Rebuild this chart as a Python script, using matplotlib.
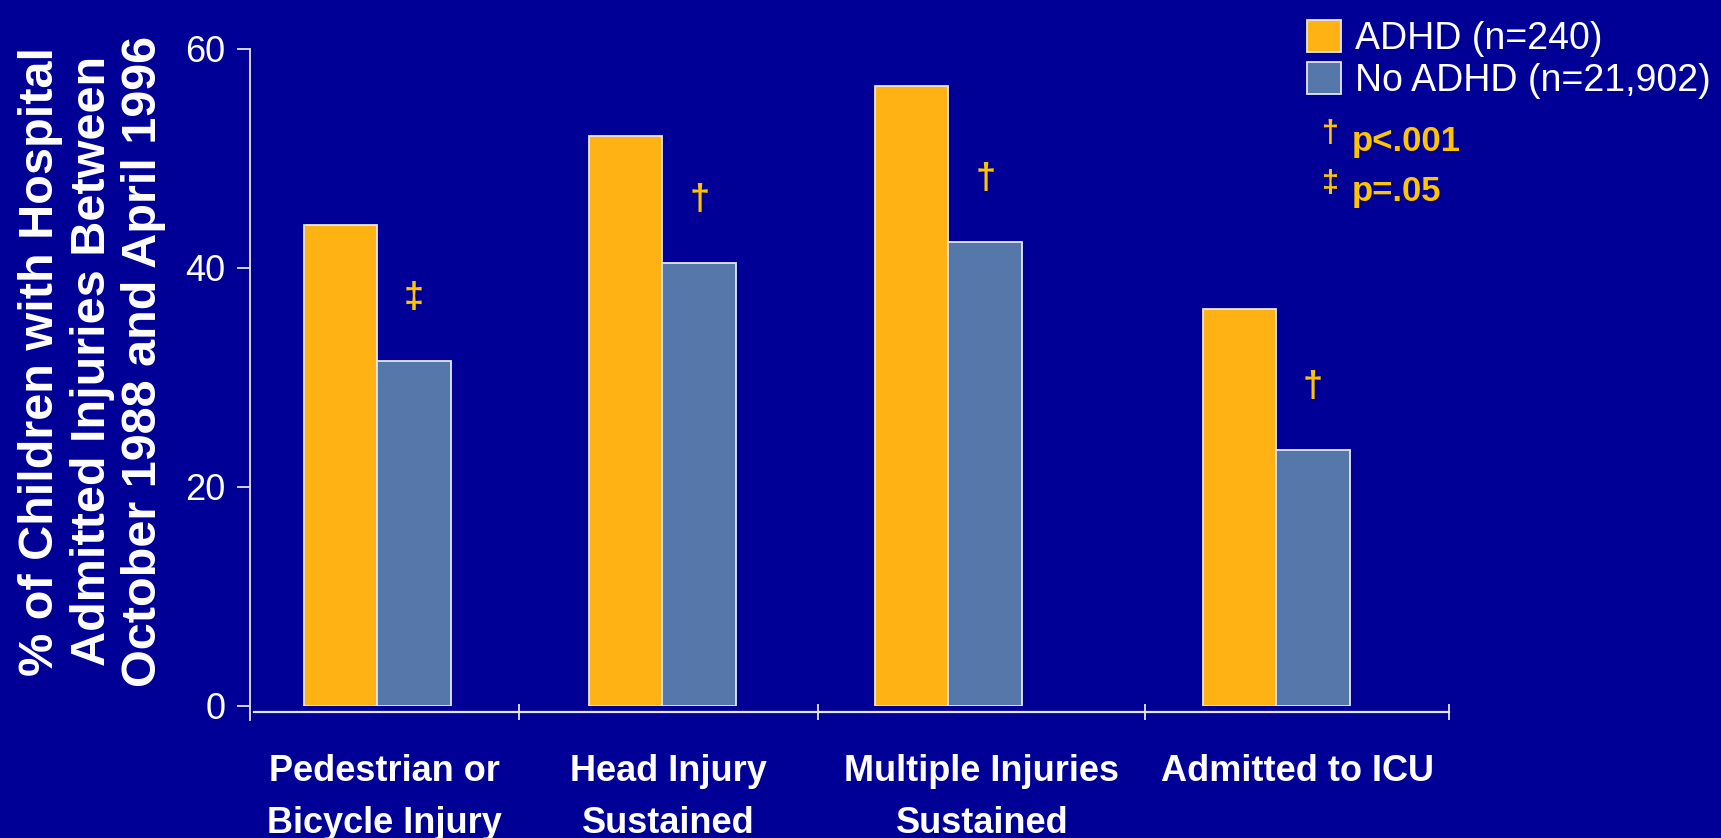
import matplotlib.pyplot as plt
from matplotlib.patches import Patch
import numpy as np

# injury outcomes, % of children admitted
categories = ["Pedestrian or\nBicycle Injury", "Head Injury\nSustained",
              "Multiple Injuries\nSustained", "Admitted to ICU"]
adhd = [43.9, 52.1, 56.6, 36.3]
no_adhd = [31.5, 40.5, 42.4, 23.4]
sig_marks = ["\u2021", "\u2020", "\u2020", "\u2020"]

series_labels = ["ADHD (n=240)", "No ADHD (n=21,902)"]
yticks = [0, 20, 40, 60]

bg = "#000096"
orange = "#FFB213"
steel = "#5677AA"
yellow = "#FFC400"
edge = "#E6E6EE"

plt.rcParams['font.family'] = ['Liberation Sans', 'DejaVu Sans']

# band layout along x (bar width = 1 unit)
band_edges = [0, 3.66, 7.73, 12.18, 16.31]
group_mid = [1.73, 5.61, 9.50, 13.96]
band_mid = [(band_edges[i] + band_edges[i + 1]) / 2 for i in range(4)]

fig = plt.figure(figsize=(17.21, 8.38), dpi=100, facecolor=bg)
ax = fig.add_axes([0.14526, 0.15752, 0.69669, 0.78401])
ax.set_facecolor(bg)

gx = np.array(group_mid)
ax.bar(gx - 0.5, adhd, width=1, color=orange, edgecolor=edge, linewidth=1.3, zorder=2)
ax.bar(gx + 0.5, no_adhd, width=1, color=steel, edgecolor=edge, linewidth=1.3, zorder=2)

# significance daggers above the comparison bars
for x, v, m in zip(gx + 0.5, no_adhd, sig_marks):
    ax.text(x, v + 5.7, m, color=yellow, fontsize=26, fontweight='bold',
            ha='center', va='center')

ax.set_xlim(band_edges[0], band_edges[-1])
ax.set_ylim(0, 60)

for s in ['top', 'right']:
    ax.spines[s].set_visible(False)
ax.spines['left'].set_color(edge)
ax.spines['left'].set_linewidth(1.3)
ax.spines['left'].set_bounds(-1.3, 60)
ax.spines['bottom'].set_color(edge)
ax.spines['bottom'].set_linewidth(1.6)
ax.spines['bottom'].set_position(('outward', 4.5))
ax.spines['bottom'].set_bounds(0.05, band_edges[-1])

ax.set_yticks(yticks)
ax.set_yticklabels([str(t) for t in yticks], fontsize=26, color='white')
ax.tick_params(axis='y', direction='out', length=9.5, width=1.3, color=edge, pad=8)

ax.set_xticks(band_mid)
ax.set_xticklabels(categories, fontsize=26, fontweight='bold', color='white',
                   linespacing=1.62)
ax.tick_params(axis='x', which='major', length=0, pad=30)
ax.set_xticks(band_edges[1:], minor=True)
ax.tick_params(axis='x', which='minor', direction='inout', length=11, width=1.3, color=edge)

fig.text(0.0535, 0.569,
         "% of Children with Hospital\nAdmitted Injuries Between\nOctober 1988 and April 1996",
         rotation=90, ha='center', va='center', multialignment='center',
         fontsize=35, fontweight='bold', color='white', linespacing=1.18)

handles = [Patch(facecolor=orange, edgecolor=edge, linewidth=1.3),
           Patch(facecolor=steel, edgecolor=edge, linewidth=1.3)]
leg = fig.legend(handles, series_labels, loc='upper left',
                 bbox_to_anchor=(1307 / 1721, 1 - 20 / 838), frameon=False,
                 fontsize=27, handlelength=0.9, handleheight=0.95,
                 handletextpad=0.37, labelspacing=0.12, borderpad=0, borderaxespad=0)
for t in leg.get_texts():
    t.set_color('white')

# p-value key
fig.text(1330 / 1721, 1 - 134 / 838, "\u2020", color=yellow, fontsize=22,
         fontweight='bold', ha='center', va='center')
fig.text(1352 / 1721, 1 - 142 / 838, "p<.001", color=yellow, fontsize=25,
         fontweight='bold', ha='left', va='center')
fig.text(1330 / 1721, 1 - 184 / 838, "\u2021", color=yellow, fontsize=22,
         fontweight='bold', ha='center', va='center')
fig.text(1352 / 1721, 1 - 192 / 838, "p=.05", color=yellow, fontsize=25,
         fontweight='bold', ha='left', va='center')

fig.savefig("out.png", dpi=100, facecolor=bg)
